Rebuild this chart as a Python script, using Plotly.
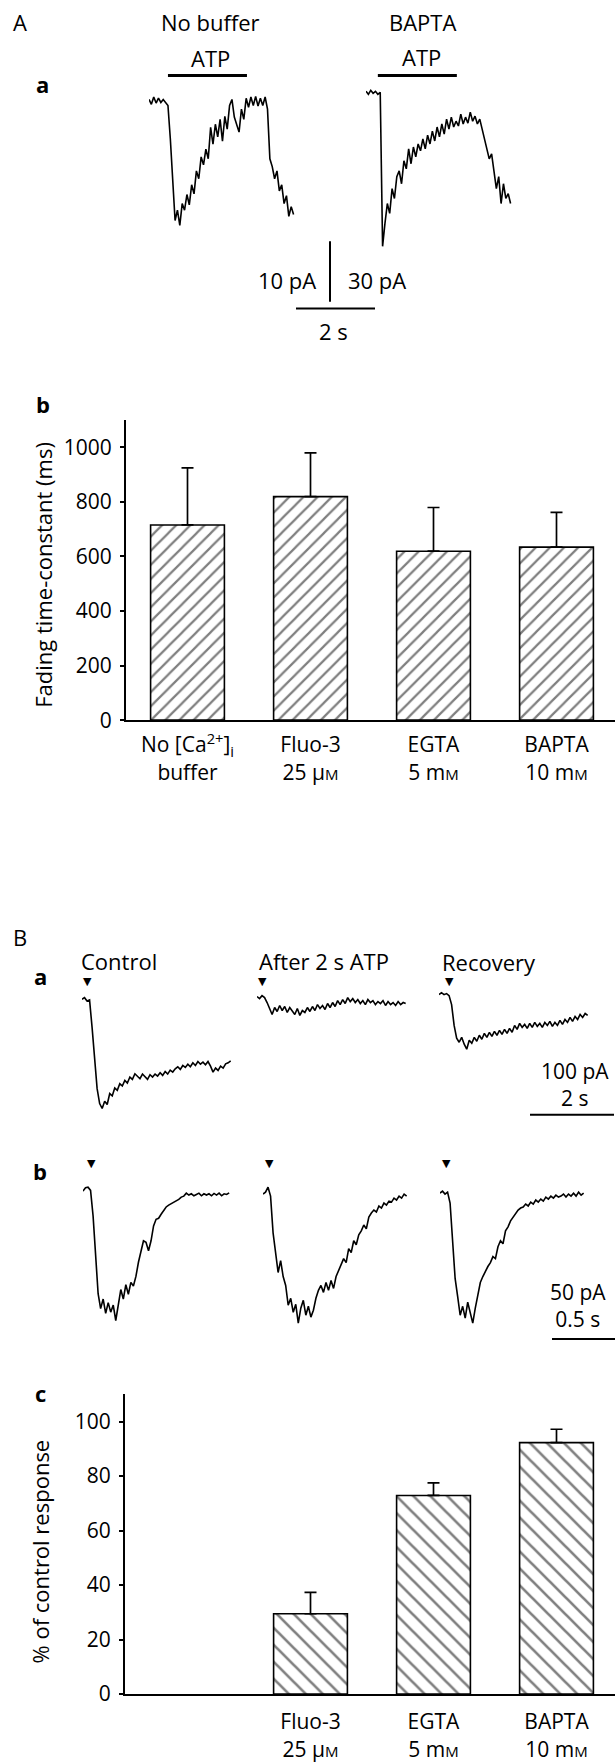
import plotly.graph_objects as go

W, H = 615, 1764
FONT = "Open Sans, Lato, sans-serif"
INK = "#000000"
TXT = 22
TICK = 21

# ------------------------------------------------------------------ data
# Panel A b : fading time-constant (ms), mean + s.e.m.
fade_categories = ["No buffer", "Fluo-3", "EGTA", "BAPTA"]
fade_ticktext = [
    "No [Ca<sup>2+</sup>]<sub>i</sub><br>buffer",
    "Fluo-3<br>25 µ<span style='font-size:15px'>M</span>",
    "EGTA<br>5 m<span style='font-size:15px'>M</span>",
    "BAPTA<br>10 m<span style='font-size:15px'>M</span>",
]
fade_mean_ms = [715, 819, 619, 634]
fade_sem_ms = [209, 160, 160, 127]
fade_ticks = [0, 200, 400, 600, 800, 1000]

# Panel B c : % of control response (no bar for the unbuffered group)
resp_categories = ["No buffer", "Fluo-3", "EGTA", "BAPTA"]
resp_labelled = ["Fluo-3", "EGTA", "BAPTA"]
resp_ticktext = [
    "Fluo-3<br>25 µ<span style='font-size:15px'>M</span>",
    "EGTA<br>5 m<span style='font-size:15px'>M</span>",
    "BAPTA<br>10 m<span style='font-size:15px'>M</span>",
]
resp_mean_pct = [None, 29.5, 72.9, 92.3]
resp_sem_pct = [None, 7.8, 4.6, 4.9]
resp_ticks = [0, 20, 40, 60, 80, 100]

# Panel A a : whole-cell currents (pA), sampled every aa_dt seconds
aa_dt = 0.06
aa_nobuf_pA = [0.3, -0.5, 0.7, -0.3, 0.5, -0.2, 0.3, -0.3, -0.7, -6.2,
               -13.6, -19.7, -18.0, -20.5, -16.9, -18.0, -15.4, -17.1, -13.8, -15.3,
               -11.5, -12.8, -9.2, -10.5, -7.9, -9.5, -4.3, -7.1, -3.8, -5.9,
               -3.0, -6.6, -2.5, -4.6, -0.7, 0.3, -2.6, -3.9, -5.1, -1.3,
               -3.0, 0.5, -1.0, 0.7, -0.7, 0.8, -0.8, 0.5, -0.7, 0.7,
               -1.3, -9.5, -10.8, -12.8, -11.5, -14.8, -13.8, -16.9, -15.6, -19.0,
               -17.4, -18.7]
aa_bapta_pA = [0.5, -1.0, 1.0, -0.5, 0.5, -1.0, 0.0, -76.3, -64.9, -55.1,
               -60.0, -47.7, -52.6, -41.8, -38.9, -45.3, -33.9, -37.9, -28.0, -35.4,
               -27.1, -32.0, -25.6, -29.0, -23.1, -28.0, -21.2, -25.6, -19.2, -24.1,
               -17.2, -22.1, -15.7, -20.7, -13.3, -18.2, -12.3, -17.2, -14.3, -16.7,
               -10.8, -15.7, -12.3, -15.3, -9.8, -14.3, -11.8, -15.7, -13.3, -18.2,
               -22.1, -28.0, -33.0, -30.5, -40.3, -47.7, -41.8, -55.1, -45.3, -52.6,
               -50.2, -55.1]
aa_atp_on_s = [0.48, 0.30]
atp_duration_s = 2.0

# Panel B a : responses to brief ATP pulses (pA), sampled every ba_dt seconds
ba_dt = 0.06
ba_control_pA = [1.7, 4.4, -1.1, 0.6, -45.6, -103.9, -148.4, -173.4, -181.7, -169.5,
                 -175.0, -156.7, -160.6, -147.3, -151.2, -140.0, -143.9, -134.5, -138.9, -128.9,
                 -132.8, -123.4, -127.8, -131.7, -123.9, -128.9, -132.8, -125.0, -128.9, -123.9,
                 -127.3, -121.7, -126.1, -119.5, -123.9, -117.3, -120.6, -115.0, -111.7, -116.1,
                 -109.5, -112.8, -107.3, -111.7, -105.0, -109.5, -102.8, -107.3, -103.9, -108.4,
                 -102.8, -110.6, -120.6, -113.9, -117.8, -110.6, -113.9, -106.7, -105.0, -101.7]
ba_after_pA = [1.7, -1.7, 3.3, 0.0, -8.3, -20.0, -28.3, -16.7, -23.3, -13.3,
               -21.7, -15.0, -25.0, -16.7, -23.3, -28.3, -18.3, -30.0, -21.7, -25.0,
               -16.7, -23.3, -15.0, -21.7, -11.7, -18.3, -13.3, -20.0, -10.0, -16.7,
               -8.3, -15.0, -5.0, -11.7, -3.3, -10.0, 0.0, -6.7, -1.7, -8.3,
               -3.3, -10.0, -5.0, -11.7, -3.3, -8.3, -5.0, -11.7, -6.7, -10.0,
               -5.0, -13.3, -6.7, -11.7, -8.3, -13.3, -6.7, -11.7, -8.3, -10.0]
ba_recovery_pA = [0.0, 3.3, 0.0, 1.7, -1.7, -16.7, -51.7, -73.3, -80.0, -71.7,
                  -83.3, -91.7, -76.7, -81.7, -71.7, -78.3, -68.3, -75.0, -65.0, -71.7,
                  -63.3, -70.0, -61.7, -68.3, -60.0, -66.7, -58.3, -65.0, -56.7, -63.3,
                  -51.7, -58.3, -48.3, -55.0, -50.0, -56.7, -48.3, -55.0, -46.7, -53.3,
                  -48.3, -55.0, -46.7, -51.7, -45.0, -53.3, -46.7, -51.7, -43.3, -50.0,
                  -41.7, -46.7, -38.3, -45.0, -36.7, -41.7, -33.3, -38.3, -31.7, -35.0]
ba_stim_s = [0.14, 0.14, 0.24]

# Panel B b : responses (pA), sampled every bb_dt seconds
bb_dt = 0.02
bb_control_pA = [-1.4, 1.4, 1.9, -0.8, -22.2, -59.7, -87.5, -100.0, -92.0, -104.0,
                 -95.0, -103.0, -97.0, -110.0, -98.0, -84.0, -92.0, -80.0, -88.0, -78.0,
                 -81.0, -73.0, -61.1, -52.8, -43.1, -44.4, -51.4, -43.1, -30.6, -25.0,
                 -24.2, -20.8, -17.5, -14.7, -13.1, -11.9, -10.3, -9.7, -8.3, -6.4,
                 -5.6, -3.1, -4.7, -3.6, -5.3, -4.2, -3.1, -5.3, -3.6, -4.7,
                 -3.6, -5.3, -3.3, -4.7, -3.1, -5.3, -3.6, -4.2, -2.8]
bb_after_pA = [-0.8, 0.8, 5.0, -2.5, -33.3, -52.5, -66.6, -56.6, -70.0, -77.5,
               -94.1, -88.3, -100.0, -93.3, -109.1, -96.6, -90.0, -102.5, -95.0, -104.1,
               -98.3, -88.3, -81.6, -77.5, -83.3, -75.0, -81.6, -73.3, -80.0, -70.0,
               -65.0, -60.8, -55.0, -58.3, -46.6, -50.0, -40.0, -43.3, -35.0, -31.7,
               -26.7, -30.0, -20.0, -16.7, -14.2, -15.8, -10.8, -12.5, -8.3, -10.0,
               -6.7, -7.5, -4.2, -5.8, -2.5, -4.2, -0.8, -2.5]
bb_recovery_pA = [0.0, 1.7, -0.8, 0.8, -8.3, -40.0, -71.6, -86.6, -102.5, -95.0,
                  -104.9, -91.6, -101.6, -109.1, -96.6, -85.8, -75.0, -70.0, -65.0, -61.6,
                  -58.3, -53.3, -55.0, -45.0, -40.0, -42.5, -31.7, -28.3, -23.3, -20.0,
                  -16.7, -14.2, -12.5, -11.7, -9.2, -10.8, -7.5, -9.2, -5.8, -7.5,
                  -5.0, -6.7, -3.3, -5.0, -2.5, -4.2, -1.7, -3.3, -2.5, -0.8,
                  -3.3, -0.8, -2.5, 0.0, -2.5, 0.8, -1.7, 0.0]
bb_stim_s = [0.07, 0.05, 0.05]

# ------------------------------------------------------------------ layout helpers
def fx(px):
    return px / W


def fy(py):
    return 1 - py / H


# placement of every recorded trace: left edge, baseline row, px per s, pA per px
placements = {
    "aa_nobuf": dict(x0=149, y0=102, pps=39.5, ppa=10 / 61),
    "aa_bapta": dict(x0=366, y0=93, pps=39.5, ppa=30 / 61),
    "ba_control": dict(x0=82, y0=1007.7, pps=42, ppa=100 / 60),
    "ba_after": dict(x0=257, y0=1005, pps=42, ppa=100 / 60),
    "ba_recovery": dict(x0=439, y0=1002, pps=42, ppa=100 / 60),
    "bb_control": dict(x0=83, y0=1198.3, pps=126, ppa=50 / 60),
    "bb_after": dict(x0=263, y0=1202, pps=126, ppa=50 / 60),
    "bb_recovery": dict(x0=440, y0=1202, pps=126, ppa=50 / 60),
}
series = [
    ("aa_nobuf", aa_nobuf_pA, aa_dt),
    ("aa_bapta", aa_bapta_pA, aa_dt),
    ("ba_control", ba_control_pA, ba_dt),
    ("ba_after", ba_after_pA, ba_dt),
    ("ba_recovery", ba_recovery_pA, ba_dt),
    ("bb_control", bb_control_pA, bb_dt),
    ("bb_after", bb_after_pA, bb_dt),
    ("bb_recovery", bb_recovery_pA, bb_dt),
]

fig = go.Figure()
layout = dict(
    width=W, height=H, margin=dict(l=0, r=0, t=0, b=0, pad=0),
    paper_bgcolor="white", plot_bgcolor="rgba(0,0,0,0)", showlegend=False,
    font=dict(family=FONT, size=TXT, color=INK),
)

axis_of = {}
for k, (name, vals, dt) in enumerate(series, start=3):
    pl = placements[name]
    layout[f"xaxis{k}"] = dict(domain=[fx(pl["x0"]), 1], range=[0, (W - pl["x0"]) / pl["pps"]],
                               visible=False, anchor=f"y{k}", fixedrange=True)
    layout[f"yaxis{k}"] = dict(domain=[0, 1], range=[-(H - pl["y0"]) * pl["ppa"], pl["y0"] * pl["ppa"]],
                               visible=False, anchor=f"x{k}", fixedrange=True)
    t = [i * dt for i in range(len(vals))]
    fig.add_trace(go.Scatter(x=t, y=vals, mode="lines", line=dict(color=INK, width=1.6),
                             xaxis=f"x{k}", yaxis=f"y{k}", hoverinfo="skip"))
    axis_of[name] = k


def t_at(name, px):
    pl = placements[name]
    return (px - pl["x0"]) / pl["pps"]


def pA_at(name, py):
    pl = placements[name]
    return -(py - pl["y0"]) * pl["ppa"]


# ------------------------------------------------------------------ bar charts
def bar_trace(cats, vals, errs, hatch, size, xa, ya):
    return go.Bar(
        x=cats, y=vals, width=0.6, xaxis=xa, yaxis=ya, hoverinfo="skip",
        marker=dict(color="white", line=dict(color=INK, width=1.6),
                    pattern=dict(shape=hatch, fgcolor=INK, bgcolor="white", size=size,
                                 solidity=0.22)),
        error_y=dict(type="data", array=errs, arrayminus=[0] * len(errs), symmetric=False,
                     color=INK, thickness=1.7, width=6),
    )


fig.add_trace(bar_trace(fade_categories, fade_mean_ms, fade_sem_ms, "/", 10, "x", "y"))
fig.add_trace(bar_trace(resp_categories, resp_mean_pct, resp_sem_pct, "\\", 12, "x2", "y2"))

cat_px, first_cat_px = 123.0, 187.5
for suffix, left_px, cats, tvals, ticktext, ydom, yrange, yticks, standoff in [
    ("", 126, fade_categories, fade_categories, fade_ticktext, (725.5, 423), [0, 1100], fade_ticks, 5),
    ("2", 125, resp_categories, resp_labelled, resp_ticktext, (1706.7, 1404.7), [0, 110], resp_ticks, 8),
]:
    layout["xaxis" + suffix] = dict(
        domain=[fx(left_px), 1], type="category", categoryarray=cats,
        range=[-(first_cat_px - left_px) / cat_px, (W - first_cat_px) / cat_px],
        tickvals=tvals, ticktext=ticktext, ticks="", showline=True, linecolor=INK, linewidth=2,
        showgrid=False, zeroline=False, anchor="y" + suffix, fixedrange=True,
        ticklabelstandoff=standoff, tickfont=dict(size=TICK, family=FONT, color=INK),
    )
    layout["yaxis" + suffix] = dict(
        domain=[fy(ydom[0]), fy(ydom[1])], range=yrange, tickvals=yticks,
        ticks="outside", ticklen=4, tickwidth=1.5, tickcolor=INK,
        showline=True, linecolor=INK, linewidth=2, showgrid=False, zeroline=False,
        anchor="x" + suffix, fixedrange=True, ticklabelstandoff=4,
        tickfont=dict(size=TICK, family=FONT, color=INK),
    )

# ------------------------------------------------------------------ text
ann = []


def txt(s, x, y, size=TXT, bold=False, xanchor="center", angle=0):
    ann.append(dict(text=f"<b>{s}</b>" if bold else s, x=fx(x), y=fy(y), xref="paper", yref="paper",
                    showarrow=False, xanchor=xanchor, yanchor="middle", textangle=angle,
                    font=dict(size=size, family=FONT, color=INK)))


txt("A", 20, 22)
txt("No buffer", 210, 22)
txt("BAPTA", 422, 22)
txt("ATP", 210, 58)
txt("ATP", 421, 57)
txt("a", 42, 85, bold=True)
txt("10 pA", 318, 282, xanchor="right")
txt("30 pA", 346, 282, xanchor="left")
txt("2 s", 333, 333)
txt("b", 43, 407, bold=True)
txt("Fading time-constant (ms)", 43, 579, angle=-90)
txt("B", 20, 944)
txt("Control", 118.5, 968)
txt("After 2 s ATP", 324, 968)
txt("Recovery", 489, 969)
txt("a", 40, 983, bold=True)
txt("100 pA<br>2 s", 575, 1093, size=21)
txt("b", 40, 1180, bold=True)
txt("50 pA<br>0.5 s", 578, 1315, size=21)
txt("c", 40, 1403, bold=True)
txt("% of control response", 40, 1563, angle=-90)

# stimulus arrowheads
for name, ts, row in [("ba_control", ba_stim_s[0], 989), ("ba_after", ba_stim_s[1], 989),
                      ("ba_recovery", ba_stim_s[2], 989), ("bb_control", bb_stim_s[0], 1172),
                      ("bb_after", bb_stim_s[1], 1172), ("bb_recovery", bb_stim_s[2], 1172)]:
    ann.append(dict(text="▼", x=ts, xref=f"x{axis_of[name]}", y=fy(row), yref="paper",
                    showarrow=False, xanchor="center", yanchor="middle",
                    font=dict(size=11, family="DejaVu Sans", color=INK)))

# ------------------------------------------------------------------ bars (ATP and scales)
shapes = []
for name, on in [("aa_nobuf", aa_atp_on_s[0]), ("aa_bapta", aa_atp_on_s[1])]:
    k = axis_of[name]
    shapes.append(dict(type="line", xref=f"x{k}", yref="paper", x0=on, x1=on + atp_duration_s,
                       y0=fy(76), y1=fy(76), line=dict(color=INK, width=3)))

k = axis_of["aa_nobuf"]
t0 = t_at("aa_nobuf", 296)
shapes.append(dict(type="line", xref=f"x{k}", yref="paper", x0=t0, x1=t0 + 2.0,
                   y0=fy(310.7), y1=fy(310.7), line=dict(color=INK, width=2)))
tv = t_at("aa_nobuf", 330)
i0 = pA_at("aa_nobuf", 304)
shapes.append(dict(type="line", xref=f"x{k}", yref=f"y{k}", x0=tv, x1=tv, y0=i0, y1=i0 + 10,
                   line=dict(color=INK, width=2)))

k = axis_of["ba_recovery"]
t0 = t_at("ba_recovery", 530)
shapes.append(dict(type="line", xref=f"x{k}", yref="paper", x0=t0, x1=t0 + 2.0,
                   y0=fy(1123), y1=fy(1123), line=dict(color=INK, width=2)))
k = axis_of["bb_recovery"]
t0 = t_at("bb_recovery", 552)
shapes.append(dict(type="line", xref=f"x{k}", yref="paper", x0=t0, x1=t0 + 0.5,
                   y0=fy(1349), y1=fy(1349), line=dict(color=INK, width=2)))

layout["annotations"] = ann
layout["shapes"] = shapes
fig.update_layout(**layout)
fig.write_html("out.html")
